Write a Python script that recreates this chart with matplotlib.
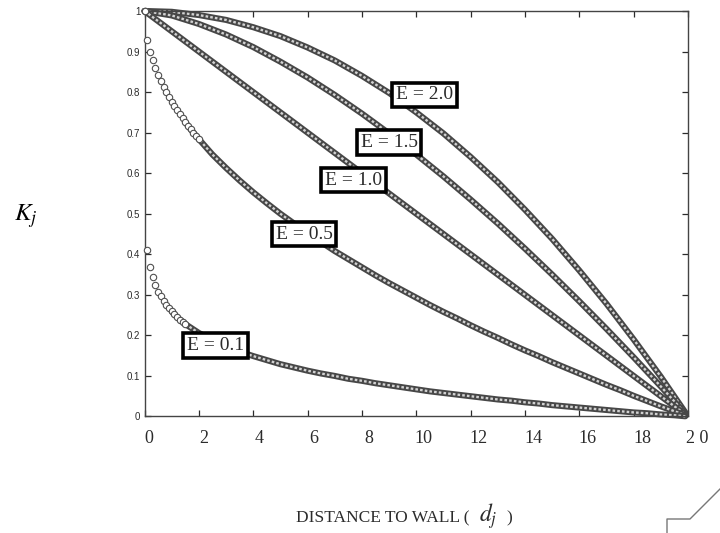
import matplotlib.pyplot as plt
from matplotlib.lines import Line2D
from matplotlib.transforms import ScaledTranslation, blended_transform_factory

plt.rcParams["mathtext.fontset"] = "stix"

SERIF = "Liberation Serif"
SANS = "Liberation Sans"
INK = "#2b2b2b"
BAND_DARK = "#474747"
BAND_LIGHT = "#d2d2d2"

# coarse grid for the smooth curves (E = 2.0, 1.5, 1.0)
DIST = [0, 1, 2, 3, 4, 5, 6, 7, 8, 9, 10, 11, 12, 13, 14, 15, 16, 17, 18, 19, 19.9]
K_E20 = [1.0, 0.998, 0.990, 0.978, 0.960, 0.938, 0.910, 0.878, 0.840, 0.798, 0.750,
         0.698, 0.640, 0.578, 0.510, 0.438, 0.360, 0.278, 0.190, 0.098, 0.010]
K_E15 = [1.0, 0.989, 0.968, 0.942, 0.911, 0.875, 0.836, 0.793, 0.747, 0.698, 0.646,
         0.592, 0.535, 0.476, 0.414, 0.350, 0.284, 0.216, 0.146, 0.074, 0.007]
K_E10 = [1.0, 0.950, 0.900, 0.850, 0.800, 0.750, 0.700, 0.650, 0.600, 0.550, 0.500,
         0.450, 0.400, 0.350, 0.300, 0.250, 0.200, 0.150, 0.100, 0.050, 0.005]

# E = 0.5 and E = 0.1 read more finely close to the wall
DIST_E05 = [0, 0.1, 0.2, 0.3, 0.4, 0.5, 0.6, 0.7, 0.8, 0.9, 1.0, 1.1, 1.2, 1.3, 1.4,
            1.5, 1.6, 1.7, 1.8, 1.9, 2.0, 2.5, 3.0, 3.5, 4.0, 4.5, 5.0, 5.5, 6.0, 6.5,
            7.0, 7.5, 8.0, 8.5, 9.0, 9.5, 10.0, 10.5, 11.0, 11.5, 12.0, 12.5, 13.0,
            13.5, 14.0, 14.5, 15.0, 15.5, 16.0, 16.5, 17.0, 17.5, 18.0, 18.5, 19.0,
            19.5, 19.9]
K_E05 = [1.0, 0.929, 0.900, 0.878, 0.859, 0.842, 0.827, 0.813, 0.800, 0.788, 0.776,
         0.765, 0.755, 0.745, 0.735, 0.726, 0.717, 0.708, 0.700, 0.692, 0.684, 0.646,
         0.613, 0.582, 0.553, 0.526, 0.500, 0.476, 0.452, 0.430, 0.408, 0.388, 0.368,
         0.348, 0.329, 0.311, 0.293, 0.275, 0.258, 0.242, 0.225, 0.209, 0.194, 0.178,
         0.163, 0.149, 0.134, 0.120, 0.106, 0.092, 0.078, 0.065, 0.051, 0.038, 0.025,
         0.013, 0.003]
DIST_E01 = [0, 0.1, 0.2, 0.3, 0.4, 0.5, 0.6, 0.7, 0.8, 0.9, 1.0, 1.1, 1.2, 1.3, 1.4,
            1.5, 2.0, 2.5, 3.0, 3.5, 4.0, 4.5, 5.0, 5.5, 6.0, 6.5, 7.0, 7.5, 8.0, 8.5,
            9.0, 9.5, 10.0, 10.5, 11.0, 11.5, 12.0, 12.5, 13.0, 13.5, 14.0, 14.5, 15.0,
            15.5, 16.0, 16.5, 17.0, 17.5, 18.0, 18.5, 19.0, 19.5, 19.9]
K_E01 = [1.0, 0.411, 0.369, 0.343, 0.324, 0.308, 0.296, 0.285, 0.275, 0.267, 0.259,
         0.252, 0.245, 0.239, 0.234, 0.228, 0.206, 0.188, 0.173, 0.160, 0.149, 0.139,
         0.129, 0.121, 0.113, 0.106, 0.100, 0.093, 0.088, 0.082, 0.077, 0.072, 0.067,
         0.062, 0.058, 0.054, 0.050, 0.046, 0.042, 0.039, 0.035, 0.032, 0.028, 0.025,
         0.022, 0.019, 0.016, 0.013, 0.010, 0.008, 0.005, 0.003, 0.0005]

CURVE_LABELS = ["E = 2.0", "E = 1.5", "E = 1.0", "E = 0.5", "E = 0.1"]
LABEL_X = [10.3, 9.0, 7.7, 5.87, 2.6]
LABEL_Y = [0.793, 0.675, 0.583, 0.450, 0.176]

X_TICKS = [0, 2, 4, 6, 8, 10, 12, 14, 16, 18, 20]
X_TICK_LABELS = ["0", "2", "4", "6", "8", "10", "12", "14", "16", "18", "2 0"]
Y_TICKS = [0, 0.1, 0.2, 0.3, 0.4, 0.5, 0.6, 0.7, 0.8, 0.9, 1.0]
Y_TICK_LABELS = ["0", "0.1", "0.2", "0.3", "0.4", "0.5", "0.6", "0.7", "0.8", "0.9", "1"]


def draw_curve(ax, x, y, band_from=0.0, rings_to=None):
    # circles merge into a band where they are packed tightly
    i0 = next(i for i, d in enumerate(x) if d >= band_from)
    ax.plot(x[i0:], y[i0:], color=BAND_DARK, lw=4.4, solid_capstyle="round",
            clip_on=False, zorder=2)
    ax.plot(x[i0:], y[i0:], color=BAND_LIGHT, lw=1.7, ls=(0, (1.1, 0.9)),
            clip_on=False, zorder=2)
    if rings_to is not None:
        i1 = next(i for i, d in enumerate(x) if d > rings_to)
        ax.plot(x[:i1], y[:i1], ls="none", marker="o", ms=4.6, mfc="white",
                mec="#505050", mew=0.8, clip_on=False, zorder=3)


def main():
    fig = plt.figure(figsize=(7.2, 5.33), dpi=100)
    ax = fig.add_axes([0.2007, 0.2186, 0.7549, 0.7608])

    draw_curve(ax, DIST, K_E20)
    draw_curve(ax, DIST, K_E15)
    draw_curve(ax, DIST, K_E10)
    draw_curve(ax, DIST_E05, K_E05, band_from=1.5, rings_to=2.0)
    draw_curve(ax, DIST_E01, K_E01, band_from=1.0, rings_to=1.5)

    for label, lx, ly in zip(CURVE_LABELS, LABEL_X, LABEL_Y):
        ax.text(lx, ly, label, family=SERIF, fontsize=14, color=INK,
                ha="center", va="center", zorder=5,
                bbox=dict(boxstyle="square,pad=0.2", fc="white", ec="black", lw=2.6))

    ax.set_xlim(0, 20)
    ax.set_ylim(0, 1)
    ax.set_xticks(X_TICKS)
    ax.set_xticklabels([])
    # the printed labels drift slightly right of their ticks
    xlab_trans = blended_transform_factory(ax.transData, ax.transAxes)
    for tick, text in zip(X_TICKS, X_TICK_LABELS):
        dx = (4.5 + 0.25 * tick) / 100
        ax.text(tick, 0, text, family=SERIF, fontsize=13, color=INK,
                ha="center", va="top", clip_on=False,
                transform=xlab_trans + ScaledTranslation(dx, -0.14, fig.dpi_scale_trans))
    ax.set_yticks(Y_TICKS)
    ax.set_yticklabels(Y_TICK_LABELS, family=SANS, fontsize=7, color=INK)
    ax.tick_params(direction="in", length=4, width=0.9, color=INK,
                   top=True, right=True)
    ax.tick_params(axis="y", pad=3)
    for spine in ax.spines.values():
        spine.set_color("#444444")
        spine.set_linewidth(1.0)

    fig.text(26 / 720, 1 - 216 / 533, "$K_j$", fontsize=18, ha="center", va="center")

    base = 1 - 522 / 533
    fig.text(469 / 720, base, "DISTANCE TO WALL (", family=SERIF, fontsize=12.5,
             color=INK, ha="right", va="baseline")
    fig.text(479 / 720, base, "$d_j$", fontsize=17, color=INK, ha="left", va="baseline")
    fig.text(506 / 720, base, ")", family=SERIF, fontsize=12.5, color=INK,
             ha="left", va="baseline")

    # corner mark at the lower right of the scanned page
    fig.add_artist(Line2D([720 / 720, 690 / 720, 667 / 720, 667 / 720],
                          [1 - 489 / 533, 1 - 519 / 533, 1 - 519 / 533, 0],
                          color="#777777", lw=1.0))

    fig.savefig("out.png", dpi=100, facecolor="white")
    plt.close(fig)


if __name__ == "__main__":
    main()
